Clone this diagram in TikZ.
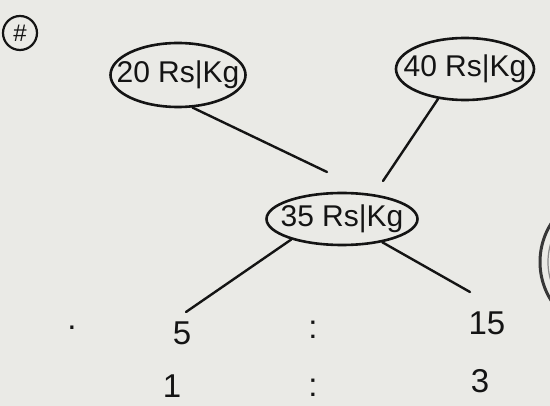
\documentclass[tikz,border=0pt]{standalone}
\usepackage{fontspec}
\setmainfont{Liberation Sans}
\usetikzlibrary{shapes.geometric}
\definecolor{paper}{RGB}{234,234,230}
\definecolor{ink}{RGB}{20,20,20}
\begin{document}
\begin{tikzpicture}[x=1pt,y=-1pt,
  price/.style={ellipse, draw=ink, line width=2.6pt, inner xsep=-14pt, inner ysep=0pt,
    font=\fontsize{30}{32}\selectfont, text=ink},
  num/.style={font=\fontsize{33}{35}\selectfont, text=ink, inner sep=0pt},
  link/.style={draw=ink, line width=2.4pt, line cap=round}]
\fill[paper] (0,0) rectangle (550,406);
\useasboundingbox (0,0) rectangle (550,406);
% stamp bleeding in at the right edge
\begin{scope}
\clip (0,0) rectangle (550,406);
\draw[ink!85, line width=3pt] (612,262) circle (72);
\draw[ink!50, line width=1.2pt] (612,262) circle (64);
\end{scope}
% circled hash mark
\node[circle, draw=ink, line width=2.2pt, minimum size=34pt, inner sep=0pt,
  font=\fontsize{24}{26}\selectfont, text=ink] (hash) at (20,33) {\#};
% price nodes
\node[price, minimum width=135pt, minimum height=64pt] (p20) at (178,75) {20 Rs|Kg};
\node[price, minimum width=138pt, minimum height=62pt] (p40) at (465,69) {40 Rs|Kg};
\node[price, minimum width=151pt, minimum height=52pt] (p35) at (342,219) {35 Rs|Kg};
% free ends of the connectors
\coordinate (e20) at (327,172);
\coordinate (e40) at (383,181);
\coordinate (e5) at (186,312);
\coordinate (e15) at (470,292);
\draw[link] (p20.-66) -- (e20);
\draw[link] (p40.-132) -- (e40);
\draw[link] (p35.-158) -- (e5);
\draw[link] (p35.-30) -- (e15);
% ratio rows
\node[num] (n5) at (182,333) {5};
\node[num] (c1) at (313,330) {:};
\node[num] (n15) at (487,323) {15};
\node[num] (n1) at (172,386) {1};
\node[num] (c2) at (313,388) {:};
\node[num] (n3) at (480,381) {3};
\node[num] (dot) at (72,328) {.};
\end{tikzpicture}
\end{document}
